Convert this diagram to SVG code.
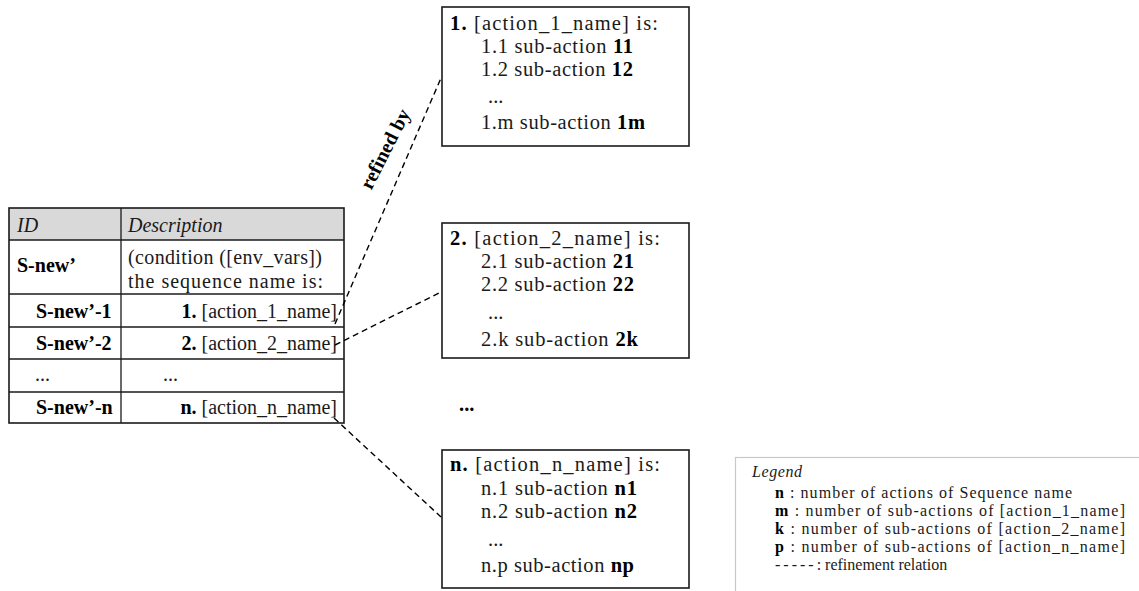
<svg xmlns="http://www.w3.org/2000/svg" width="1139" height="591" viewBox="0 0 1139 591">
<style>
text{font-family:"Liberation Serif","Times New Roman",serif;fill:#1a1a1a}
.t{font-size:20px}
.bx{font-size:20.5px}
.lg{font-size:16px}
.b{font-weight:bold;fill:#000}
.i{font-style:italic}
.frame{fill:#fff;stroke:#1a1a1a;stroke-width:1.6}
.grid{stroke:#1a1a1a;stroke-width:1.3;fill:none}
.dash{stroke:#000;stroke-width:1.4;stroke-dasharray:6 4;fill:none}
</style>
<rect width="1139" height="591" fill="#fff"/>

<g id="table">
  <rect x="9" y="208" width="335" height="32" fill="#d9d9d9"/>
  <rect x="9" y="208" width="335" height="215" fill="none" stroke="#1a1a1a" stroke-width="1.6"/>
  <line class="grid" x1="121" y1="208" x2="121" y2="423"/>
  <line class="grid" x1="9" y1="240" x2="344" y2="240"/>
  <line class="grid" x1="9" y1="294" x2="344" y2="294"/>
  <line class="grid" x1="9" y1="327" x2="344" y2="327"/>
  <line class="grid" x1="9" y1="359" x2="344" y2="359"/>
  <line class="grid" x1="9" y1="392" x2="344" y2="392"/>
  <text class="t i" x="17" y="232">ID</text>
  <text class="t i" x="128" y="232">Description</text>
  <text class="t b" x="17" y="272">S-new’</text>
  <text class="t" x="128" y="264" textLength="194" lengthAdjust="spacing">(condition ([env_vars])</text>
  <text class="t" x="128" y="288" textLength="195" lengthAdjust="spacing">the sequence name is:</text>
  <text class="t b" x="36" y="318">S-new’-1</text>
  <text class="t" x="337" y="318" text-anchor="end"><tspan class="b">1.</tspan> [action_1_name]</text>
  <text class="t b" x="36" y="350">S-new’-2</text>
  <text class="t" x="337" y="350" text-anchor="end"><tspan class="b">2.</tspan> [action_2_name]</text>
  <text class="t" x="35" y="381">...</text>
  <text class="t" x="163" y="381">...</text>
  <text class="t b" x="36" y="414">S-new’-n</text>
  <text class="t" x="337" y="414" text-anchor="end"><tspan class="b">n.</tspan> [action_n_name]</text>
</g>

<g id="action1">
  <rect class="frame" x="442" y="7" width="247" height="139"/>
  <text class="bx" x="450" y="30" textLength="208" lengthAdjust="spacing"><tspan class="b">1.</tspan> [action_1_name]  is:</text>
  <text class="bx" x="481" y="53" textLength="152" lengthAdjust="spacing">1.1 sub-action <tspan class="b">11</tspan></text>
  <text class="bx" x="481" y="76" textLength="152" lengthAdjust="spacing">1.2 sub-action <tspan class="b">12</tspan></text>
  <text class="bx" x="488" y="103">...</text>
  <text class="bx" x="481" y="129" textLength="164" lengthAdjust="spacing">1.m sub-action <tspan class="b">1m</tspan></text>
</g>

<g id="action2">
  <rect class="frame" x="442" y="223" width="247" height="135"/>
  <text class="bx" x="450" y="245" textLength="210" lengthAdjust="spacing"><tspan class="b">2.</tspan> [action_2_name]  is:</text>
  <text class="bx" x="481" y="268" textLength="153" lengthAdjust="spacing">2.1 sub-action <tspan class="b">21</tspan></text>
  <text class="bx" x="481" y="291" textLength="153" lengthAdjust="spacing">2.2 sub-action <tspan class="b">22</tspan></text>
  <text class="bx" x="488" y="319">...</text>
  <text class="bx" x="481" y="346" textLength="157" lengthAdjust="spacing">2.k sub-action <tspan class="b">2k</tspan></text>
</g>

<g id="action-more">
  <text class="bx b" x="459" y="411">...</text>
</g>

<g id="actionN">
  <rect class="frame" x="442" y="450" width="247" height="138"/>
  <text class="bx" x="450" y="471" textLength="210" lengthAdjust="spacing"><tspan class="b">n.</tspan> [action_n_name]  is:</text>
  <text class="bx" x="481" y="495" textLength="156" lengthAdjust="spacing">n.1 sub-action <tspan class="b">n1</tspan></text>
  <text class="bx" x="481" y="518" textLength="156" lengthAdjust="spacing">n.2 sub-action <tspan class="b">n2</tspan></text>
  <text class="bx" x="488" y="546">...</text>
  <text class="bx" x="481" y="572" textLength="153" lengthAdjust="spacing">n.p sub-action <tspan class="b">np</tspan></text>
</g>

<g id="connectors">
  <line class="dash" x1="335" y1="324" x2="441" y2="78"/>
  <line class="dash" x1="335" y1="345" x2="441" y2="292"/>
  <line class="dash" x1="334" y1="418" x2="441" y2="517"/>
  <text class="b" font-size="20" transform="translate(391 152) rotate(-63)" text-anchor="middle">refined by</text>
</g>

<g id="legend">
  <rect x="735.5" y="457.5" width="420" height="200" fill="#fff" stroke="#c8c8c8" stroke-width="1.2"/>
  <text class="lg i" x="752" y="477" letter-spacing="0.6">Legend</text>
  <text class="lg" x="775" y="498" textLength="297" lengthAdjust="spacing"><tspan class="b">n</tspan> : number of actions of Sequence name</text>
  <text class="lg" x="775" y="516" textLength="350" lengthAdjust="spacing"><tspan class="b">m</tspan> : number of sub-actions of [action_1_name]</text>
  <text class="lg" x="775" y="534" textLength="350" lengthAdjust="spacing"><tspan class="b">k</tspan> : number of sub-actions of [action_2_name]</text>
  <text class="lg" x="775" y="552" textLength="350" lengthAdjust="spacing"><tspan class="b">p</tspan> : number of sub-actions of [action_n_name]</text>
  <text class="lg" x="775" y="570"><tspan letter-spacing="3">-----</tspan>: refinement relation</text>
</g>
</svg>
